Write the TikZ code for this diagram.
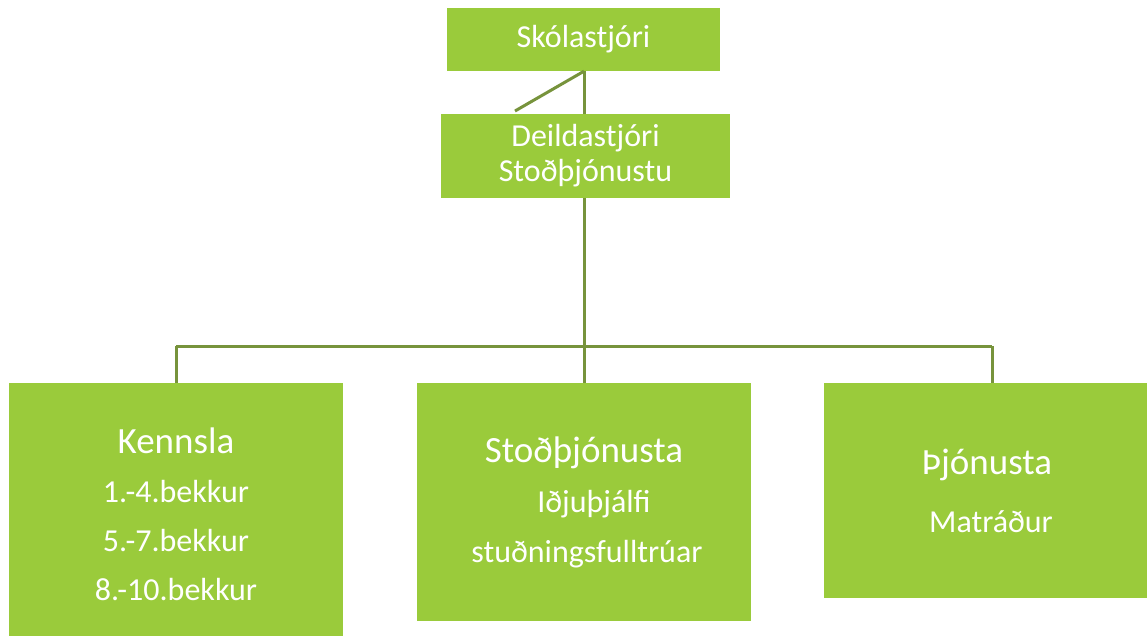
\documentclass[tikz,border=0pt]{standalone}
\usepackage{fontspec}
\setmainfont{Carlito}
\definecolor{boxgreen}{RGB}{154,203,59}
\definecolor{linegreen}{RGB}{119,147,60}
\tikzset{
    orgbox/.style = {fill=boxgreen, text=white, align=center, inner sep=0pt},
    orgline/.style = {draw=linegreen, line width=3pt}
}
\newcommand{\headfont}{\fontsize{37}{44}\selectfont}
\begin{document}
\begin{tikzpicture}[x=1pt, y=-1pt]
    \useasboundingbox (0,0) rectangle (1147,635);
    % top boxes
    \node [orgbox, minimum width=273, minimum height=63, font=\fontsize{32}{36}\selectfont] (skola) at (583.5,39.5) {Skólastjóri};
    \node [orgbox, minimum width=289, minimum height=84, font=\fontsize{32}{35}\selectfont] (deild) at (585.5,156) {Deildastjóri\\Stoðþjónustu};
    % bottom boxes
    \node [orgbox, minimum width=334, minimum height=262, font=\fontsize{32}{49}\selectfont] (kennsla) at (176,514)
        {{\headfont Kennsla}\\1.-4.bekkur\\5.-7.bekkur\\8.-10.bekkur};
    \node [orgbox, minimum width=334, minimum height=238, font=\fontsize{32}{50}\selectfont] (stod) at (584,502)
        {{\headfont Stoðþjónusta}\\\hspace*{20pt}Iðjuþjálfi\\\hspace*{6pt}stuðningsfulltrúar};
    \node [orgbox, minimum width=326, minimum height=215, font=\fontsize{32}{58}\selectfont] (thjon) at (987,490.5)
        {{\headfont Þjónusta}\\\hspace*{8pt}Matráður};
    % connectors
    \coordinate (diag) at (515,111);
    \coordinate (split) at (584,346);
    \coordinate (lsplit) at (176,346);
    \coordinate (rsplit) at (992,346);
    \draw [orgline] (skola.south -| split) -- (diag);
    \draw [orgline] (skola.south -| split) -- (deild.north -| split);
    \draw [orgline] (deild.south -| split) -- (stod.north -| split);
    \draw [orgline] (lsplit) -- (rsplit);
    \draw [orgline] (lsplit) -- (kennsla.north -| lsplit);
    \draw [orgline] (rsplit) -- (thjon.north -| rsplit);
\end{tikzpicture}
\end{document}
